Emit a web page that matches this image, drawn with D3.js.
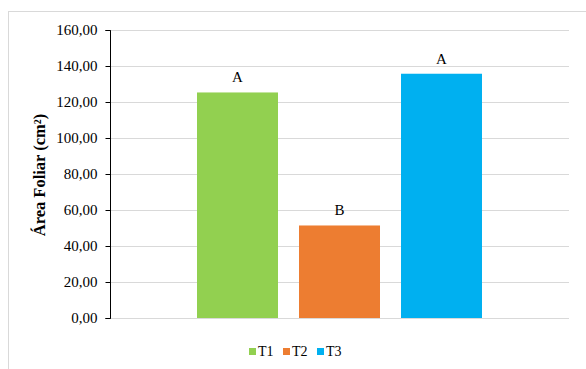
<!DOCTYPE html>
<html>
<head>
<meta charset="utf-8">
<script src="https://cdn.jsdelivr.net/npm/d3@7"></script>
<style>
  html, body { margin: 0; padding: 0; background: #fff; }
  svg { display: block; }
  text { font-family: "Liberation Serif", "Times New Roman", serif; fill: #000; }
</style>
</head>
<body>
<svg id="chart" width="586" height="369"></svg>
<script>
// Leaf area per treatment (cm²) with the letters from the mean comparison test
const series = ["T1", "T2", "T3"];
const values = [125.3, 51.4, 135.7];
const letters = ["A", "B", "A"];
const colors = ["#92D050", "#ED7D31", "#00B0F0"];
const yTicks = [0, 20, 40, 60, 80, 100, 120, 140, 160];
const yTitle = "Área Foliar (cm²)";

const svg = d3.select("#chart");

// Outer chart frame
svg.append("rect")
  .attr("x", 8.5).attr("y", 11.5)
  .attr("width", 620).attr("height", 400)
  .attr("fill", "none").attr("stroke", "#d9d9d9").attr("stroke-width", 1);

const plot = { left: 110, right: 569, top: 30, bottom: 318 };

const y = d3.scaleLinear().domain([0, 160]).range([plot.bottom, plot.top]);
const x = d3.scaleBand().domain(series)
  .range([plot.left, plot.right])
  .paddingInner(0.206).paddingOuter(0.853);

// Horizontal gridlines
svg.append("g").selectAll("line")
  .data(yTicks)
  .join("line")
  .attr("x1", plot.left).attr("x2", plot.right)
  .attr("y1", d => Math.round(y(d)) + 0.5).attr("y2", d => Math.round(y(d)) + 0.5)
  .attr("stroke", "#d9d9d9").attr("stroke-width", 1);

// Bars
svg.append("g").selectAll("rect")
  .data(series)
  .join("rect")
  .attr("x", d => x(d))
  .attr("y", (d, i) => y(values[i]))
  .attr("width", x.bandwidth())
  .attr("height", (d, i) => y(0) - y(values[i]))
  .attr("fill", (d, i) => colors[i]);

// Letters above bars
svg.append("g").selectAll("text")
  .data(series)
  .join("text")
  .attr("x", d => x(d) + x.bandwidth() / 2)
  .attr("y", (d, i) => y(values[i]) - 10)
  .attr("text-anchor", "middle")
  .attr("font-size", 15)
  .text((d, i) => letters[i]);

// Y axis
const yAxis = d3.axisLeft(y)
  .tickValues(yTicks)
  .tickSize(5)
  .tickPadding(8)
  .tickFormat(d => d3.format(".2f")(d).replace(".", ","));

const gy = svg.append("g")
  .attr("transform", `translate(${plot.left + 0.5},0)`)
  .call(yAxis);
gy.select(".domain").attr("stroke", "#000").attr("d", `M-5,${Math.round(y(160)) + 0.5}H0V${Math.round(y(0)) + 0.5}H-5`);
gy.selectAll(".tick line").attr("stroke", "#000");
gy.selectAll(".tick").attr("transform", d => `translate(0,${Math.round(y(d)) + 0.5})`);
gy.selectAll(".tick text")
  .attr("font-family", "Liberation Serif, Times New Roman, serif")
  .attr("font-size", 15)
  .attr("fill", "#000");

// Y axis title
svg.append("text")
  .attr("transform", `translate(45,${(plot.top + plot.bottom) / 2 + 1}) rotate(-90)`)
  .attr("text-anchor", "middle")
  .attr("font-size", 16.5)
  .attr("font-weight", "bold")
  .text(yTitle);

// Legend
const legend = svg.append("g").attr("transform", "translate(249,356)");
const item = legend.selectAll("g")
  .data(series)
  .join("g")
  .attr("transform", (d, i) => `translate(${i * 34},0)`);
item.append("rect")
  .attr("x", 0).attr("y", -8)
  .attr("width", 7).attr("height", 7)
  .attr("fill", (d, i) => colors[i]);
item.append("text")
  .attr("x", 9).attr("y", 0)
  .attr("font-size", 14)
  .text(d => d);
</script>
</body>
</html>
